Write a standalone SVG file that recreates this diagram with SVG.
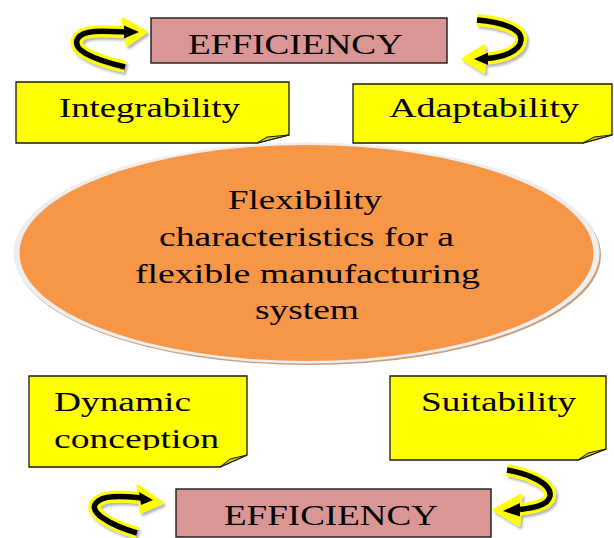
<svg xmlns="http://www.w3.org/2000/svg" width="614" height="538" viewBox="0 0 614 538">
  <style>
    .lbl { font-family: "Liberation Serif", "Times New Roman", serif; fill: #000; }
    .note { fill: #FFFF00; stroke: #1a1a1a; stroke-width: 1.3; }
    .fold { fill: #C9C92A; stroke: #1a1a1a; stroke-width: 1; stroke-linejoin: round; }
    .eff { fill: #D99694; stroke: #1a1a1a; stroke-width: 1.4; }
    .shaft-y { fill: none; stroke: #FFFF00; stroke-width: 12; stroke-linecap: butt; }
    .shaft-k { fill: none; stroke: #000; stroke-width: 5.5; stroke-linecap: butt; }
    .head-y { fill: #FFFF00; stroke: #FFFF00; stroke-width: 3; stroke-linejoin: round; }
    .head-k { fill: #000; }
  </style>
  <defs>
    <filter id="soft" x="-20%" y="-20%" width="140%" height="140%">
      <feDropShadow dx="2" dy="2.5" stdDeviation="1.2" flood-color="#777" flood-opacity="0.55"/>
    </filter>
    <clipPath id="clipDyn">
      <rect x="29" y="376" width="218" height="74"/>
    </clipPath>
  </defs>

  <rect width="614" height="538" fill="#fff"/>

  <!-- central ellipse -->
  <g id="center">
    <ellipse cx="308" cy="255" rx="293" ry="110" fill="#C9A07E"/>
    <ellipse cx="306.5" cy="253" rx="293" ry="110.5" fill="#EEEEEE"/>
    <ellipse cx="306.5" cy="253" rx="287" ry="108" fill="#F79646"/>
    <text class="lbl" font-size="27" x="228" y="209" textLength="154" lengthAdjust="spacingAndGlyphs">Flexibility</text>
    <text class="lbl" font-size="27" x="159" y="246" textLength="295" lengthAdjust="spacingAndGlyphs">characteristics for a</text>
    <text class="lbl" font-size="27" x="135" y="283" textLength="345" lengthAdjust="spacingAndGlyphs">flexible manufacturing</text>
    <text class="lbl" font-size="27" x="255" y="319" textLength="104" lengthAdjust="spacingAndGlyphs">system</text>
  </g>

  <!-- efficiency banners -->
  <g id="efficiency-top">
    <rect class="eff" x="151" y="18" width="296" height="45"/>
    <text class="lbl" font-size="29" x="188" y="54" textLength="215" lengthAdjust="spacingAndGlyphs">EFFICIENCY</text>
  </g>
  <g id="efficiency-bottom">
    <rect class="eff" x="176" y="489" width="315" height="48"/>
    <text class="lbl" font-size="29" x="224" y="525" textLength="214" lengthAdjust="spacingAndGlyphs">EFFICIENCY</text>
  </g>

  <!-- sticky notes -->
  <g id="integrability">
    <path class="note" d="M16 82 H289 V135 L257 143 H16 Z"/>
    <path class="fold" d="M257 143 L267 137 L289 135 Z"/>
    <text class="lbl" font-size="28" x="59" y="117" textLength="181" lengthAdjust="spacingAndGlyphs">Integrability</text>
  </g>
  <g id="adaptability">
    <path class="note" d="M353 84 H612 V135 L583 143 H353 Z"/>
    <path class="fold" d="M583 143 L594 137 L612 135 Z"/>
    <text class="lbl" font-size="28" x="389" y="117" textLength="190" lengthAdjust="spacingAndGlyphs">Adaptability</text>
  </g>
  <g id="dynamic-conception">
    <path class="note" d="M29 376 H247 V455 L220 467 H29 Z"/>
    <path class="fold" d="M220 467 L230 459 L247 455 Z"/>
    <g clip-path="url(#clipDyn)">
      <text class="lbl" font-size="27" x="54" y="411" textLength="137" lengthAdjust="spacingAndGlyphs">Dynamic</text>
      <text class="lbl" font-size="27" x="54" y="448" textLength="165" lengthAdjust="spacingAndGlyphs">conception</text>
    </g>
  </g>
  <g id="suitability">
    <path class="note" d="M390 376 H606 V449 L578 460 H390 Z"/>
    <path class="fold" d="M578 460 L588 453 L606 449 Z"/>
    <text class="lbl" font-size="27" x="421" y="411" textLength="155" lengthAdjust="spacingAndGlyphs">Suitability</text>
  </g>

  <!-- curved cycle arrows -->
  <g id="connectors">
    <g id="arrow-top-left" filter="url(#soft)">
      <path class="shaft-y" d="M125 67 C95 60 70 50 78 38 C84 29 105 31 128 32"/>
      <polygon class="head-y" points="123,19 146,32 127,45"/>
      <path class="shaft-k" d="M125 67 C95 60 70 50 78 38 C84 29 105 31 128 32"/>
      <polygon class="head-k" points="124,25.5 139,32 124,38.5"/>
    </g>
    <g id="arrow-top-right" filter="url(#soft)">
      <path class="shaft-y" d="M477 20 C500 22 522 28 521 40 C520 52 502 57 487 58.5"/>
      <polygon class="head-y" points="484,46 463,59 484,72"/>
      <path class="shaft-k" d="M477 20 C500 22 522 28 521 40 C520 52 502 57 487 58.5"/>
      <polygon class="head-k" points="488,52.5 474,59 488,65"/>
    </g>
    <g id="arrow-bottom-left" filter="url(#soft)">
      <path class="shaft-y" d="M137 533 C110 525 88 512 96 503 C102 495 120 496 142 498"/>
      <polygon class="head-y" points="138,486 162,503 141,512"/>
      <path class="shaft-k" d="M137 533 C110 525 88 512 96 503 C102 495 120 496 142 498"/>
      <polygon class="head-k" points="139,492 153,500 141,505"/>
    </g>
    <g id="arrow-bottom-right" filter="url(#soft)">
      <path class="shaft-y" d="M507 470 C530 474 552 484 550 496 C548 506 532 508 520 509.5"/>
      <polygon class="head-y" points="521,495 494,510 519,525"/>
      <path class="shaft-k" d="M507 470 C530 474 552 484 550 496 C548 506 532 508 520 509.5"/>
      <polygon class="head-k" points="520,503 503,511 520,516.5"/>
    </g>
  </g>
</svg>
